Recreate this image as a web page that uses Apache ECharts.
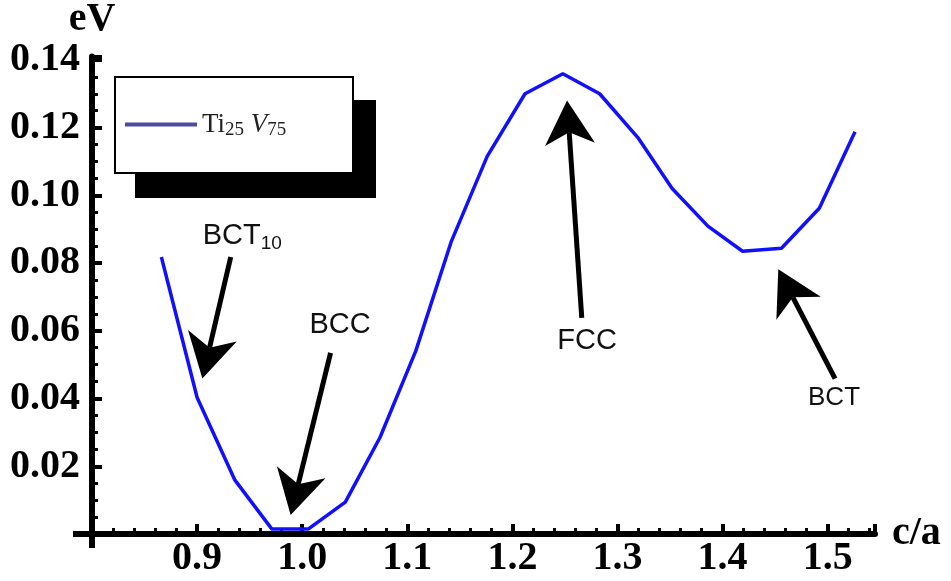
<!DOCTYPE html>
<html>
<head>
<meta charset="utf-8">
<script src="https://cdn.jsdelivr.net/npm/echarts@6/dist/echarts.min.js"></script>
<style>
  html, body { margin: 0; padding: 0; background: #fff; }
  #chart { width: 951px; height: 581px; }
</style>
</head>
<body>
<div id="chart"></div>
<script>
// c/a ratio and energy (eV)
const caValues = [0.866, 0.900, 0.936, 0.971, 1.006, 1.041, 1.074, 1.108, 1.142, 1.176,
                  1.212, 1.248, 1.283, 1.320, 1.352, 1.386, 1.419, 1.456, 1.492, 1.526]
const energyValues = [0.0818, 0.0403, 0.0159, 0.0015, 0.0015, 0.0094, 0.0285, 0.0540, 0.0865, 0.1115,
                      0.1300, 0.1359, 0.1300, 0.1168, 0.1020, 0.0909, 0.0835, 0.0844, 0.0962, 0.1188]

// arrows: [tail, tip] in data coords
const arrowBCT10 = [[0.932, 0.0818], [0.905, 0.0459]]
const arrowBCC = [[1.027, 0.0535], [0.989, 0.0056]]
const arrowFCC = [[1.266, 0.0638], [1.252, 0.1280]]
const arrowBCT = [[1.507, 0.0459], [1.453, 0.0782]]

const labelNames = ['BCT10', 'BCC', 'FCC', 'BCT']
const labelCoords = [[0.943, 0.0880], [1.036, 0.0618], [1.271, 0.0570], [1.506, 0.0403]]

const seriesName = 'Ti25V75'

const chart = echarts.init(document.getElementById('chart'))

const tickFont = { fontFamily: 'Liberation Serif', fontWeight: 'bold', fontSize: 40, color: '#000' }

const option = {
    animation: false,
    grid: { left: 92, right: 76, top: 55, bottom: 47 },
    legend: {
        left: 125,
        top: 111,
        padding: 0,
        icon: 'rect',
        itemWidth: 72,
        itemHeight: 4,
        itemGap: 0,
        data: [{ name: seriesName, itemStyle: { color: '#4b4ba6' } }],
        formatter: () => '{t|Ti}{s|25}{v| V}{s|75}',
        textStyle: {
            color: '#222',
            rich: {
                t: { fontFamily: 'Liberation Serif', fontSize: 27 },
                v: { fontFamily: 'Liberation Serif', fontSize: 27, fontStyle: 'italic' },
                s: { fontFamily: 'Liberation Serif', fontSize: 19, padding: [12, 0, 0, 0] }
            }
        }
    },
    xAxis: {
        type: 'value',
        min: 0.8,
        max: 1.545,
        interval: 0.1,
        name: 'c/a',
        nameLocation: 'end',
        nameGap: 17,
        nameTextStyle: { fontFamily: 'Liberation Serif', fontWeight: 'bold', fontSize: 40, color: '#000', verticalAlign: 'middle' },
        splitLine: { show: false },
        axisLine: { lineStyle: { color: '#000', width: 6 } },
        axisTick: { inside: true, length: 10, lineStyle: { color: '#000', width: 4 } },
        minorTick: { show: true, splitNumber: 5, length: 6, lineStyle: { color: '#000', width: 3 } },
        axisLabel: Object.assign({ margin: 5, showMinLabel: false, showMaxLabel: false,
            formatter: v => v.toFixed(1) }, tickFont)
    },
    yAxis: {
        type: 'value',
        min: 0,
        max: 0.141,
        interval: 0.02,
        name: 'eV',
        nameLocation: 'end',
        nameGap: 14,
        nameTextStyle: { fontFamily: 'Liberation Serif', fontWeight: 'bold', fontSize: 40, color: '#000' },
        splitLine: { show: false },
        axisLine: { lineStyle: { color: '#000', width: 6 } },
        axisTick: { inside: true, length: 10, lineStyle: { color: '#000', width: 4 } },
        minorTick: { show: true, splitNumber: 4, length: 6, lineStyle: { color: '#000', width: 3 } },
        axisLabel: Object.assign({ margin: 12, showMinLabel: false,
            formatter: v => v.toFixed(2) }, tickFont)
    },
    series: [
        {
            name: seriesName,
            type: 'line',
            data: caValues.map((c, i) => [c, energyValues[i]]),
            symbol: 'none',
            lineStyle: { color: '#1010ff', width: 3.5 },
            itemStyle: { color: '#4b4ba6' },
            z: 3,
            markPoint: {
                silent: true,
                symbol: 'rect',
                symbolSize: 1,
                itemStyle: { color: 'rgba(0,0,0,0)' },
                label: {
                    show: true,
                    position: 'inside',
                    color: '#111',
                    formatter: p => p.name === 'BCT10' ? '{a|BCT}{b|10}' : '{a|' + p.name + '}',
                    rich: {
                        a: { fontFamily: 'Liberation Sans', fontSize: 29, color: '#111' },
                        b: { fontFamily: 'Liberation Sans', fontSize: 19, color: '#111', padding: [16, 0, 0, 0] },
                        c: { fontFamily: 'Liberation Sans', fontSize: 26, color: '#111' }
                    }
                },
                data: labelNames.map((n, i) => ({
                    name: n,
                    coord: labelCoords[i],
                    label: n === 'BCT' ? { formatter: '{c|BCT}' } : undefined
                }))
            }
        }
    ]
}

chart.setOption(option)

const toPx = p => chart.convertToPixel({ gridIndex: 0 }, p)

// arrow = shaft + concave head, tip sits on the data point
const makeArrow = (pair) => {
    const a = toPx(pair[0]), b = toPx(pair[1])
    const dx = b[0] - a[0], dy = b[1] - a[1]
    const len = Math.hypot(dx, dy)
    const ux = dx / len, uy = dy / len
    const nx = -uy, ny = ux
    const L = 44, W = 50
    const back = [b[0] - ux * L, b[1] - uy * L]
    const notch = [b[0] - ux * L * 0.72, b[1] - uy * L * 0.72]
    return [
        { type: 'line', shape: { x1: a[0], y1: a[1], x2: notch[0], y2: notch[1] },
          style: { stroke: '#000', lineWidth: 5 }, z: 20, silent: true },
        { type: 'polygon', shape: { points: [b,
            [back[0] + nx * W / 2, back[1] + ny * W / 2], notch,
            [back[0] - nx * W / 2, back[1] - ny * W / 2]] },
          style: { fill: '#000' }, z: 20, silent: true }
    ]
}

// axis overhang past the crossing point, as in the original plot
const origin = toPx([0.8, 0])

chart.setOption({
    graphic: [
        // legend frame with hard drop shadow
        { type: 'rect', shape: { x: 135, y: 100, width: 241, height: 98 }, style: { fill: '#000' }, z: 1, silent: true },
        { type: 'rect', shape: { x: 115, y: 77, width: 238, height: 96 }, style: { fill: '#fff', stroke: '#000', lineWidth: 2 }, z: 2, silent: true },
        { type: 'line', shape: { x1: origin[0] - 19, y1: origin[1], x2: origin[0], y2: origin[1] },
          style: { stroke: '#000', lineWidth: 6 }, z: 10 },
        { type: 'line', shape: { x1: origin[0], y1: origin[1], x2: origin[0], y2: origin[1] + 14 },
          style: { stroke: '#000', lineWidth: 6 }, z: 10 }
    ].concat(...[arrowBCT10, arrowBCC, arrowFCC, arrowBCT].map(makeArrow))
})
</script>
</body>
</html>
